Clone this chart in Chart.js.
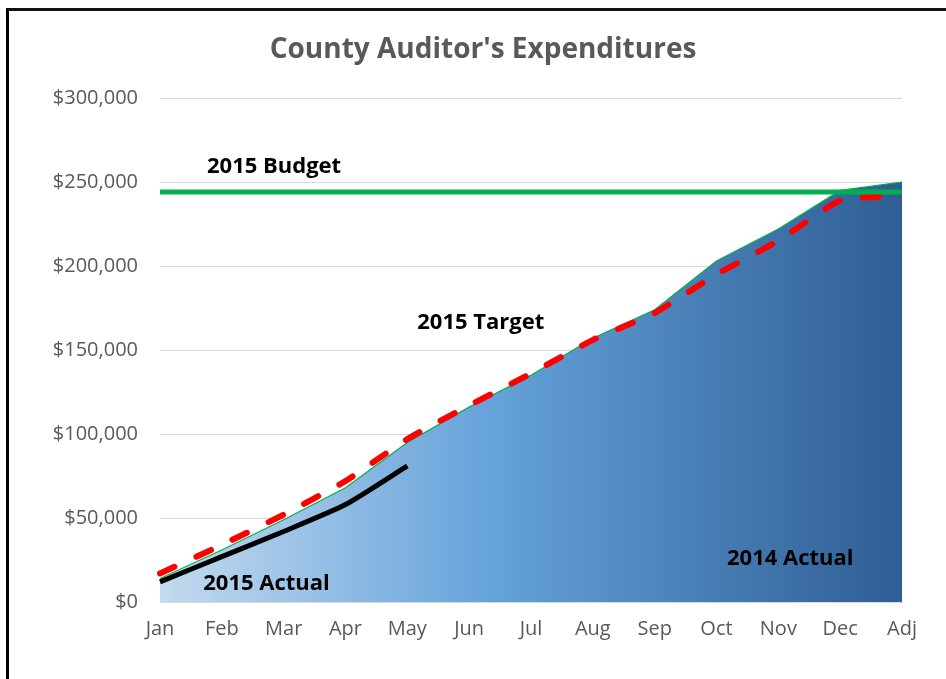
<!DOCTYPE html>
<html>
<head>
<meta charset="utf-8">
<script src="https://cdn.jsdelivr.net/npm/chart.js@4/dist/chart.umd.min.js"></script>
<style>
  html, body { margin: 0; padding: 0; background: #fff; overflow: hidden; }
  #wrap { position: relative; width: 946px; height: 679px; }
  #frame { position: absolute; left: 6px; top: 8px; width: 1000px; height: 1000px;
           border-left: 3px solid #000; border-top: 3px solid #111; pointer-events: none; }
</style>
</head>
<body>
<div id="wrap">
  <canvas id="chart" width="946" height="679"></canvas>
  <div id="frame"></div>
</div>
<script>
const months = ["Jan", "Feb", "Mar", "Apr", "May", "Jun", "Jul", "Aug", "Sep", "Oct", "Nov", "Dec", "Adj"];
const actual2014 = [14000, 31000, 49000, 68000, 95000, 116000, 135000, 157000, 174000, 203000, 222000, 245000, 250000];
const target2015 = [17000, 34000, 52000, 72000, 97000, 117000, 136000, 156000, 172000, 195000, 215000, 239000, 242000];
const actual2015 = [12000, 27000, 42000, 58000, 81000];
const budget2015 = [244000, 244000, 244000, 244000, 244000, 244000, 244000, 244000, 244000, 244000, 244000, 244000, 244000];
const yTicks = [0, 50000, 100000, 150000, 200000, 250000, 300000];
const chartTitle = "County Auditor's Expenditures";

// text labels placed on the plot: [text, x (category index), y (value)]
const seriesLabels = [
  ["2015 Budget", 0.76, 259000],
  ["2015 Target", 4.16, 166500],
  ["2015 Actual", 0.70, 10700],
  ["2014 Actual", 9.17, 26000]
];

const grey = '#595959';
const fontFamily = "'Open Sans', 'Liberation Sans', sans-serif";

const areaGradient = function (context) {
  const area = context.chart.chartArea;
  if (!area) return '#5b9bd5';
  const g = context.chart.ctx.createLinearGradient(area.left, 0, area.right, 0);
  g.addColorStop(0, '#c4daef');
  g.addColorStop(0.45, '#64a2da');
  g.addColorStop(1, '#2e5d93');
  return g;
};

// title (centred over the whole frame, not the canvas) and in-plot series labels
const labelPlugin = {
  id: 'seriesLabels',
  afterDatasetsDraw(chart) {
    const ctx = chart.ctx;
    const xs = chart.scales.x, ys = chart.scales.y;
    ctx.save();
    ctx.font = "bold 28px " + fontFamily;
    ctx.fillStyle = grey;
    ctx.textAlign = 'center';
    ctx.textBaseline = 'middle';
    ctx.fillText(chartTitle, 483, 50);

    ctx.font = "bold 22px " + fontFamily;
    ctx.fillStyle = '#000';
    ctx.textAlign = 'left';
    seriesLabels.forEach(function (l) {
      const x = xs.left + (xs.right - xs.left) * l[1] / (months.length - 1);
      ctx.fillText(l[0], x, ys.getPixelForValue(l[2]));
    });
    ctx.restore();
  }
};

new Chart(document.getElementById('chart'), {
  type: 'line',
  data: {
    labels: months,
    datasets: [{
      label: '2015 Budget',
      data: budget2015,
      borderColor: '#00b050',
      borderWidth: 5,
      pointRadius: 0,
      fill: false,
      order: 0
    }, {
      label: '2015 Actual',
      data: actual2015,
      borderColor: '#000',
      borderWidth: 5,
      pointRadius: 0,
      tension: 0.2,
      fill: false,
      order: 1
    }, {
      label: '2015 Target',
      data: target2015,
      borderColor: '#ff0000',
      borderWidth: 6,
      borderDash: [16, 24],
      borderCapStyle: 'round',
      pointRadius: 0,
      tension: 0.15,
      fill: false,
      order: 2
    }, {
      label: '2014 Actual',
      data: actual2014,
      borderColor: '#00b050',
      borderWidth: 1.2,
      backgroundColor: areaGradient,
      pointRadius: 0,
      tension: 0,
      fill: 'origin',
      order: 3
    }]
  },
  options: {
    responsive: false,
    animation: false,
    layout: { padding: { left: 0, right: 44, top: 98, bottom: 30 } },
    plugins: {
      legend: { display: false },
      tooltip: { enabled: false },
      title: { display: false }
    },
    scales: {
      x: {
        offset: false,
        grid: { display: false, drawTicks: false },
        border: { display: true, color: '#d9d9d9', width: 1 },
        ticks: { color: grey, font: { family: fontFamily, size: 20 }, padding: 15, maxRotation: 0, autoSkip: false },
        afterFit: function (s) { s.height = 47; }
      },
      y: {
        min: 0,
        max: 300000,
        afterBuildTicks: function (s) { s.ticks = yTicks.map(v => ({ value: v })); },
        grid: { color: '#d9d9d9', drawTicks: false },
        border: { display: false },
        ticks: {
          color: grey,
          font: { family: fontFamily, size: 20 },
          padding: 22,
          callback: v => '$' + v.toLocaleString('en-US')
        },
        afterFit: function (s) { s.width = 160; }
      }
    }
  },
  plugins: [labelPlugin]
});
</script>
</body>
</html>
